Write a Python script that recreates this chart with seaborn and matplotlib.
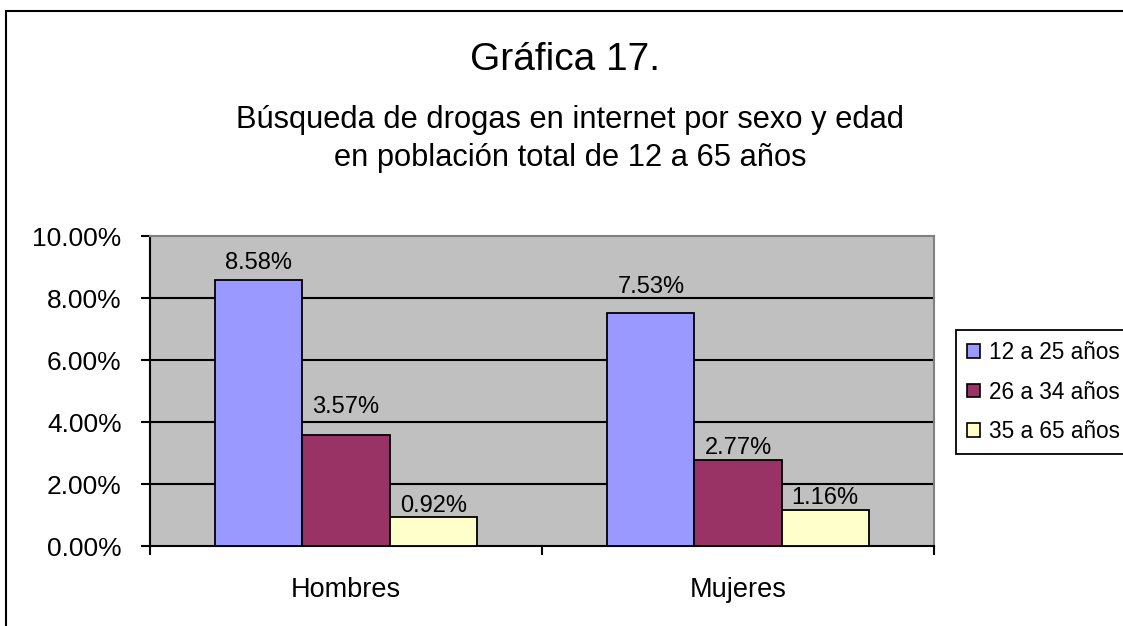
import numpy as np
import pandas as pd
import matplotlib
matplotlib.use('Agg')
import matplotlib.pyplot as plt
from matplotlib.patches import Rectangle
from matplotlib.ticker import FixedLocator
import seaborn as sns

# Data (percent)
sexos = ['Hombres', 'Mujeres']
edades = ['12 a 25 años', '26 a 34 años', '35 a 65 años']
val_12_25 = [8.58, 7.53]
val_26_34 = [3.57, 2.77]
val_35_65 = [0.92, 1.16]
yticks = [0, 2, 4, 6, 8, 10]
colores = ['#9999FF', '#993366', '#FFFFCC']

# label offsets (points) above each bar, per hue group, as in the original
label_pad = [[4.3, 10.8], [12.2, 0.7], [0.0, 0.7]]

df = pd.DataFrame({
    'sexo': sexos * 3,
    'edad': [e for e in edades for _ in sexos],
    'valor': val_12_25 + val_26_34 + val_35_65,
})

sns.set_theme(style='white')
plt.rcParams['font.family'] = ['Liberation Sans', 'DejaVu Sans']
plt.rcParams['text.color'] = 'black'
plt.rcParams['xtick.color'] = 'black'
plt.rcParams['ytick.color'] = 'black'
plt.rcParams['axes.labelcolor'] = 'black'

fig = plt.figure(figsize=(11.23, 6.26), dpi=100)
ax = fig.add_axes([150 / 1123, 1 - 546 / 626, 784 / 1123, 310 / 626])
ax.set_facecolor('#C0C0C0')

sns.barplot(data=df, x='sexo', y='valor', hue='edad', hue_order=edades,
            palette=colores, saturation=1, width=0.667,
            edgecolor='black', linewidth=1.3, ax=ax, zorder=3)

for cont, pads in zip(ax.containers, label_pad):
    labels = ax.bar_label(cont, fmt='%.2f%%', fontsize=17, color='black', zorder=4)
    for t, p in zip(labels, pads):
        t.xyann = (0, p)

ax.set_xlim(-0.5, 1.5)
ax.set_ylim(0, 10)
ax.set_yticks(yticks)
ax.set_yticklabels([f'{v:.2f}%' for v in yticks], fontsize=19)
for v in yticks[1:-1]:
    ax.axhline(v, color='black', lw=1.5, zorder=1)

ax.set_xticks([0, 1])
ax.set_xticklabels(sexos, fontsize=19.5)
ax.xaxis.set_minor_locator(FixedLocator([-0.5, 0.5, 1.5]))
ax.tick_params(axis='x', which='major', length=0, pad=22)
ax.tick_params(axis='x', which='minor', length=6.5, width=1.5, color='black', bottom=True)
ax.tick_params(axis='y', length=6.5, width=1.5, color='black', left=True, pad=14)
ax.set_xlabel('')
ax.set_ylabel('')

for s in ['left', 'bottom']:
    ax.spines[s].set_color('black')
    ax.spines[s].set_linewidth(1.5)
for s in ['top', 'right']:
    ax.spines[s].set_color('#808080')
    ax.spines[s].set_linewidth(1.5)

sns.move_legend(ax, loc='upper left', bbox_to_anchor=(956 / 1123, 1 - 330 / 626),
                bbox_transform=fig.transFigure, title=None, fontsize=16.3,
                frameon=True, fancybox=False, edgecolor='black',
                handlelength=0.55, handleheight=0.55, handletextpad=0.4,
                labelspacing=0.72, borderpad=0.5, borderaxespad=0)
leg = ax.get_legend()
leg.get_frame().set_linewidth(1.3)
leg.get_frame().set_alpha(1)
for h in leg.legend_handles:
    h.set_edgecolor('black')
    h.set_linewidth(1.2)
for t in leg.get_texts():
    t.set_color('black')

fig.text(565 / 1123, 1 - 60 / 626, 'Gráfica 17.', ha='center', va='center', fontsize=28)
fig.text(570 / 1123, 1 - 120 / 626, 'Búsqueda de drogas en internet por sexo y edad',
         ha='center', va='center', fontsize=22.2)
fig.text(570 / 1123, 1 - 158 / 626, 'en población total de 12 a 65 años',
         ha='center', va='center', fontsize=22.2)

fig.add_artist(Rectangle((6 / 1123, -0.1), 1.2, 1.1 - 11 / 626, transform=fig.transFigure,
                         fill=False, edgecolor='black', lw=1.5))

fig.savefig('out.png', dpi=100)
